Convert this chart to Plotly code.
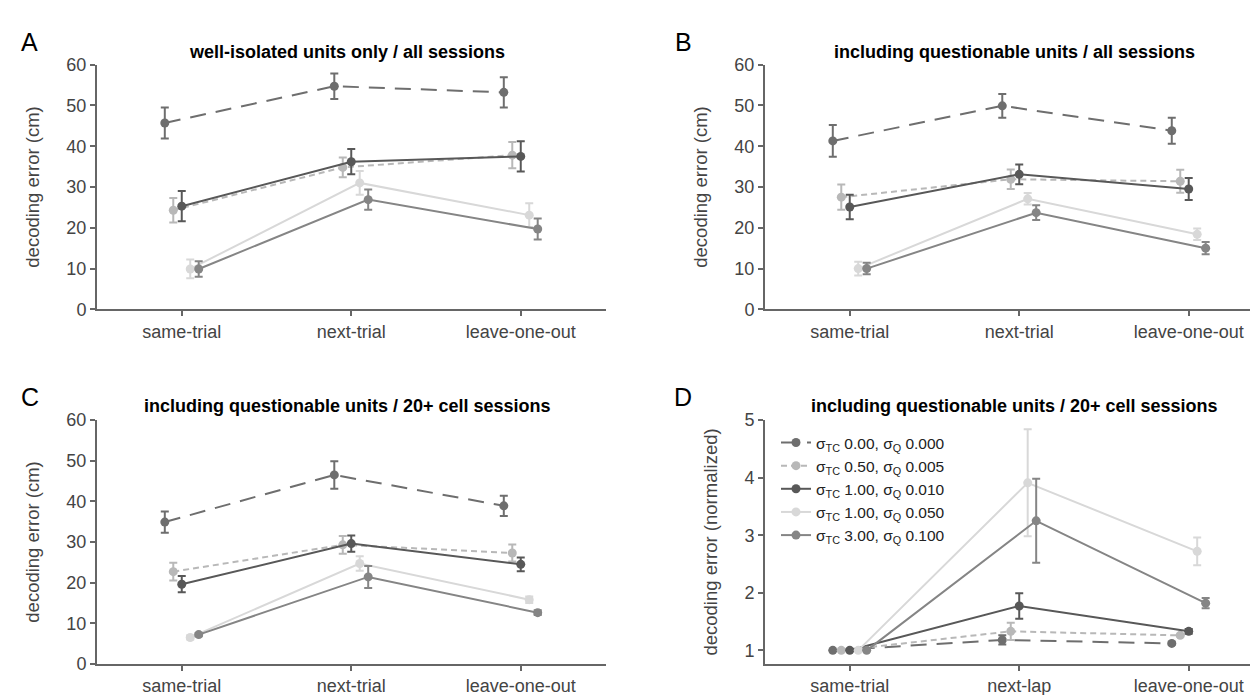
import plotly.graph_objects as go

# ---------------- data ----------------
cats_trial = ["same-trial", "next-trial", "leave-one-out"]
cats_lap = ["same-trial", "next-lap", "leave-one-out"]

series_names = [
    "σ<sub>TC</sub> 0.00, σ<sub>Q</sub> 0.000",
    "σ<sub>TC</sub> 0.50, σ<sub>Q</sub> 0.005",
    "σ<sub>TC</sub> 1.00, σ<sub>Q</sub> 0.010",
    "σ<sub>TC</sub> 1.00, σ<sub>Q</sub> 0.050",
    "σ<sub>TC</sub> 3.00, σ<sub>Q</sub> 0.100",
]

# Panel A: well-isolated units only / all sessions
A_mean = [
    [45.7, 54.7, 53.2],
    [24.3, 34.8, 37.8],
    [25.3, 36.2, 37.5],
    [9.9, 31.0, 23.1],
    [9.9, 26.9, 19.7],
]
A_err = [
    [3.8, 3.1, 3.7],
    [3.0, 2.4, 3.2],
    [3.7, 3.1, 3.7],
    [2.3, 2.9, 2.9],
    [1.9, 2.5, 2.6],
]

# Panel B: including questionable units / all sessions
B_mean = [
    [41.3, 49.9, 43.8],
    [27.5, 31.9, 31.4],
    [25.1, 33.1, 29.5],
    [10.0, 27.1, 18.4],
    [10.0, 23.7, 15.0],
]
B_err = [
    [3.9, 2.9, 3.2],
    [3.1, 2.4, 2.8],
    [3.0, 2.4, 2.7],
    [1.7, 1.4, 1.4],
    [1.4, 1.8, 1.5],
]

# Panel C: including questionable units / 20+ cell sessions
C_mean = [
    [34.9, 46.5, 38.9],
    [22.7, 29.3, 27.3],
    [19.6, 29.6, 24.5],
    [6.5, 24.7, 15.8],
    [7.2, 21.4, 12.6],
]
C_err = [
    [2.6, 3.4, 2.5],
    [2.2, 2.2, 2.1],
    [2.0, 2.0, 1.7],
    [0.5, 1.8, 0.8],
    [0.4, 2.7, 0.6],
]

# Panel D: normalized
D_mean = [
    [1.0, 1.18, 1.12],
    [1.0, 1.33, 1.26],
    [1.0, 1.77, 1.33],
    [1.0, 3.91, 2.72],
    [1.0, 3.25, 1.82],
]
D_err = [
    [0.0, 0.08, 0.02],
    [0.0, 0.15, 0.02],
    [0.0, 0.22, 0.04],
    [0.0, 0.93, 0.24],
    [0.0, 0.73, 0.09],
]

titles = [
    "well-isolated units only / all sessions",
    "including questionable units / all sessions",
    "including questionable units / 20+ cell sessions",
    "including questionable units / 20+ cell sessions",
]
letters = ["A", "B", "C", "D"]

# ---------------- styles ----------------
colors = ["#6e6e6e", "#b8b8b8", "#585858", "#d8d8d8", "#858585"]
dashes = ["16px,10px", "6px,4px", "solid", "solid", "solid"]
offsets = [-0.1, -0.05, 0.0, 0.05, 0.1]
FONT = "Liberation Sans, Arial, Helvetica, sans-serif"
AX = "#666666"
TXT = "#444444"

W, H = 1258, 695

fig = go.Figure()

panels = [
    (A_mean, A_err, cats_trial, "x", "y"),
    (B_mean, B_err, cats_trial, "x2", "y2"),
    (C_mean, C_err, cats_trial, "x3", "y3"),
    (D_mean, D_err, cats_lap, "x4", "y4"),
]

for p, (means, errs, cats, xa, ya) in enumerate(panels):
    for s in range(5):
        fig.add_trace(go.Scatter(
            x=[i + 1 + offsets[s] for i in range(len(cats))],
            y=means[s],
            error_y=dict(type="data", array=errs[s], visible=True,
                         color=colors[s], thickness=2, width=4),
            mode="lines+markers",
            line=dict(color=colors[s], width=2, dash=dashes[s]),
            marker=dict(color=colors[s], size=9),
            name=series_names[s],
            showlegend=(p == 3),
            xaxis=xa, yaxis=ya,
        ))

def px_x(v):
    return v / W

def px_y(v):
    return (H - v) / H

axis_common = dict(
    showline=True, linecolor=AX, linewidth=2,
    ticks="outside", ticklen=5, tickwidth=2, tickcolor=AX,
    showgrid=False, zeroline=False,
    tickfont=dict(family=FONT, size=18, color=TXT),
)

# domains in pixels
domA_x = [px_x(89), px_x(597.5)]
domB_x = [px_x(757), 1.0]
dom_top_y = [px_y(300), px_y(48)]
dom_bot_y = [px_y(665), px_y(414)]

rngA_x = [0.5, 3.5]
rngB_x = [0.5, 3.456]

def xaxis(dom, rng, cats, anchor):
    d = dict(axis_common)
    d.update(domain=dom, range=rng, tickvals=[1, 2, 3], ticktext=cats, anchor=anchor)
    return d

def yaxis(dom, rng, tickvals, title, anchor):
    d = dict(axis_common)
    d.update(domain=dom, range=rng, tickvals=tickvals, anchor=anchor,
             title=dict(text=title, font=dict(family=FONT, size=18.5, color=TXT), standoff=22))
    return d

fig.update_layout(
    xaxis=xaxis(domA_x, rngA_x, cats_trial, "y"),
    yaxis=yaxis(dom_top_y, [0, 60], [0, 10, 20, 30, 40, 50, 60], "decoding error (cm)", "x"),
    xaxis2=xaxis(domB_x, rngB_x, cats_trial, "y2"),
    yaxis2=yaxis(dom_top_y, [0, 60], [0, 10, 20, 30, 40, 50, 60], "decoding error (cm)", "x2"),
    xaxis3=xaxis(domA_x, rngA_x, cats_trial, "y3"),
    yaxis3=yaxis(dom_bot_y, [0, 60], [0, 10, 20, 30, 40, 50, 60], "decoding error (cm)", "x3"),
    xaxis4=xaxis(domB_x, rngB_x, cats_lap, "y4"),
    yaxis4=yaxis(dom_bot_y, [0.765, 5], [1, 2, 3, 4, 5], "decoding error (normalized)", "x4"),
)

# titles and panel letters
title_pos = [(339, 35), (1006, 35), (339, 400), (1006, 400)]
letter_pos = [(21, 25), (675, 25), (22, 390), (675, 390)]
for t, (tx, ty) in zip(titles, title_pos):
    fig.add_annotation(text="<b>" + t + "</b>", x=px_x(tx), y=px_y(ty),
                       xref="paper", yref="paper", showarrow=False,
                       xanchor="center", yanchor="middle",
                       font=dict(family=FONT, size=18, color="#000000"))
for l, (lx, ly) in zip(letters, letter_pos):
    fig.add_annotation(text=l, x=px_x(lx), y=px_y(ly),
                       xref="paper", yref="paper", showarrow=False,
                       xanchor="center", yanchor="middle",
                       font=dict(family=FONT, size=25, color="#000000"))

fig.update_layout(
    width=W, height=H,
    margin=dict(l=0, r=0, t=0, b=0),
    paper_bgcolor="white", plot_bgcolor="white",
    font=dict(family=FONT, size=18, color=TXT),
    legend=dict(
        x=px_x(768), y=px_y(420), xanchor="left", yanchor="top",
        bgcolor="rgba(0,0,0,0)",
        font=dict(family=FONT, size=15.5, color="#222222"),
        tracegroupgap=0, itemwidth=30,
    ),
)

fig.write_html("out.html")
